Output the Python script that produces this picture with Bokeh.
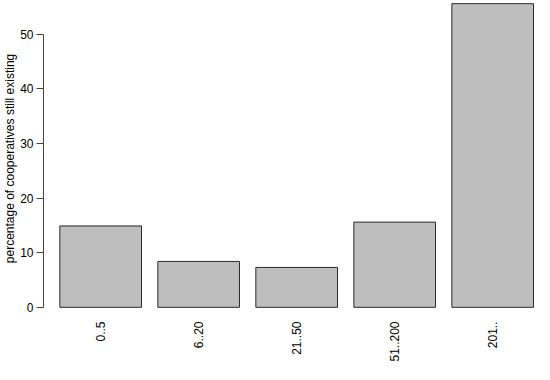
import numpy as np
from bokeh.plotting import figure
from bokeh.models import ColumnDataSource, FixedTicker, Range1d
from bokeh.embed import file_html
from bokeh.resources import INLINE

categories = ["0..5", "6..20", "21..50", "51..200", "201.."]
values = [14.9, 8.4, 7.3, 15.6, 55.6]
y_ticks = [0, 10, 20, 30, 40, 50]
y_label = "percentage of cooperatives still existing"

# R barplot layout: bar width 1, space 0.2
centers = list(0.7 + 1.2 * np.arange(len(categories)))
src = ColumnDataSource(dict(x=centers, top=values, cat=categories))

FONT = "Liberation Sans"

p = figure(width=534, height=364, output_backend="svg", toolbar_location=None,
           x_range=Range1d(0.0, 6.012), y_range=Range1d(-1.5, 56.0),
           min_border_left=40, min_border_right=0, min_border_top=1, min_border_bottom=0)
p.vbar(x="x", top="top", bottom=0, width=1.0, source=src,
       fill_color="#BEBEBE", line_color="#2a2a2a", line_width=1)

p.outline_line_color = None
p.xgrid.visible = False
p.ygrid.visible = False
p.background_fill_color = "white"
p.border_fill_color = "white"

ya = p.yaxis[0]
ya.ticker = FixedTicker(ticks=y_ticks)
ya.bounds = (y_ticks[0], y_ticks[-1])
ya.axis_line_color = "#444444"
ya.major_tick_line_color = "#444444"
ya.major_tick_out = 7
ya.major_tick_in = 0
ya.minor_tick_line_color = None
ya.major_label_standoff = 3
ya.major_label_text_font = FONT
ya.major_label_text_font_size = "12px"
ya.major_label_text_color = "black"
ya.axis_label = y_label
ya.axis_label_text_font = FONT
ya.axis_label_text_font_size = "12px"
ya.axis_label_text_font_style = "normal"
ya.axis_label_text_color = "black"
ya.axis_label_standoff = 0

xa = p.xaxis[0]
xa.ticker = FixedTicker(ticks=centers)
xa.major_label_overrides = {float(c): cat for c, cat in zip(centers, categories)}
xa.axis_label = None
xa.axis_line_color = None
xa.major_tick_line_color = None
xa.minor_tick_line_color = None
xa.major_tick_out = 0
xa.major_tick_in = 0
xa.major_label_orientation = np.pi / 2
xa.major_label_standoff = 6
xa.major_label_text_font = FONT
xa.major_label_text_font_size = "12px"
xa.major_label_text_color = "black"

open("out.html", "w").write(file_html(p, INLINE))
